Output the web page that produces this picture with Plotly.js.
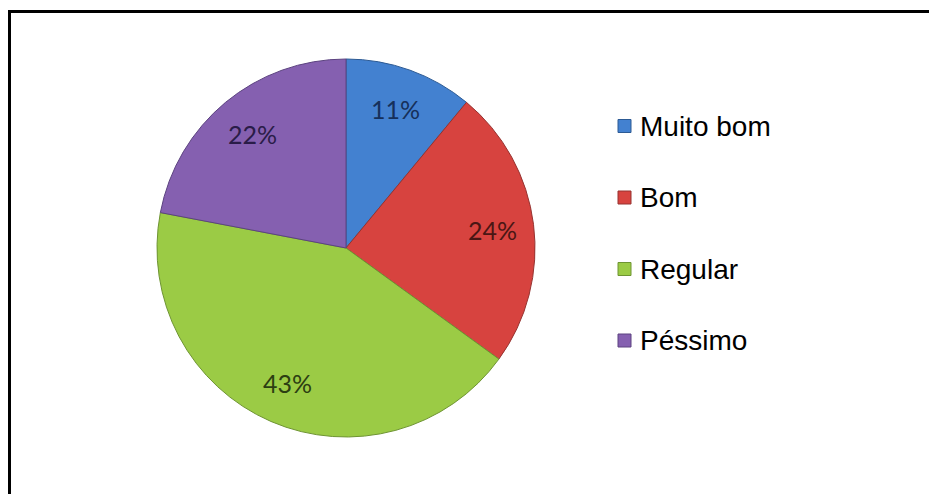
<!DOCTYPE html>
<html>
<head>
<meta charset="utf-8">
<script src="https://cdn.plot.ly/plotly-3.0.1.min.js"></script>
<style>
html,body{margin:0;padding:0;background:#fff;overflow:hidden;}
#wrap{position:relative;width:929px;height:494px;overflow:hidden;}
#chart{width:929px;height:494px;}
#frame{position:absolute;left:8px;top:10px;width:960px;height:520px;border-top:3px solid #000;border-left:3px solid #000;pointer-events:none;box-sizing:border-box;}
</style>
</head>
<body>
<div id="wrap"><div id="chart"></div><div id="frame"></div></div>
<script>
const labels = ['Muito bom', 'Bom', 'Regular', 'Péssimo'];
const values = [11, 24, 43, 22];
const colors = ['#4381D0', '#D7433F', '#9BCB45', '#8560B0'];
const edgeColors = ['#2C5A94', '#963330', '#6E9432', '#5C4380'];
const textColors = ['#16305A', '#4A1614', '#2C3E12', '#2A1C48'];

const W = 929, H = 494;
const px = x => x / W;
const py = y => 1 - y / H;

// pie placement (pixels)
const pieL = 157, pieR = 535, pieT = 59, pieB = 437;
const cx = (pieL + pieR) / 2, cy0 = (pieT + pieB) / 2, R = (pieR - pieL) / 2;

const trace = {
  type: 'pie',
  labels: labels,
  values: values,
  sort: false,
  direction: 'clockwise',
  rotation: 0,
  marker: { colors: colors, line: { color: edgeColors, width: 1 } },
  textinfo: 'none',
  domain: { x: [px(pieL), px(pieR)], y: [py(pieB), py(pieT)] },
  showlegend: false,
  hoverinfo: 'label+percent'
};

const annotations = [];
// percentage labels placed at the slice mid-angles (derived from values)
const total = values.reduce((a, b) => a + b, 0);
let cum = 0;
values.forEach((v, i) => {
  const mid = (cum + v / 2) / total * 2 * Math.PI;
  cum += v;
  const r = 0.78 * R;
  const x = cx + r * Math.sin(mid);
  const y = cy0 - r * Math.cos(mid);
  annotations.push({ xref: 'paper', yref: 'paper', x: px(x), y: py(y),
    xanchor: 'center', yanchor: 'middle', showarrow: false,
    text: Math.round(v / total * 100) + '%',
    font: { family: 'Lato, sans-serif', size: 25, color: textColors[i] } });
});

const shapes = [];
const legX = 618, legY0 = 126, legStep = 71.5;
labels.forEach((lab, i) => {
  const cy = legY0 + legStep * i;
  shapes.push({ type: 'rect', xref: 'paper', yref: 'paper',
    x0: px(legX), x1: px(legX + 13), y0: py(cy + 6.5), y1: py(cy - 6.5),
    fillcolor: colors[i], line: { color: edgeColors[i], width: 1 } });
  annotations.push({ xref: 'paper', yref: 'paper', x: px(legX + 20), y: py(cy),
    xanchor: 'left', yanchor: 'middle', showarrow: false, text: lab,
    font: { family: 'Liberation Sans, Arial, sans-serif', size: 28, color: '#000' } });
});

const layout = {
  width: W, height: H,
  margin: { l: 0, r: 0, t: 0, b: 0 },
  paper_bgcolor: '#fff',
  showlegend: false,
  shapes: shapes,
  annotations: annotations
};

Plotly.newPlot('chart', [trace], layout, { displayModeBar: false, staticPlot: true });
</script>
</body>
</html>
